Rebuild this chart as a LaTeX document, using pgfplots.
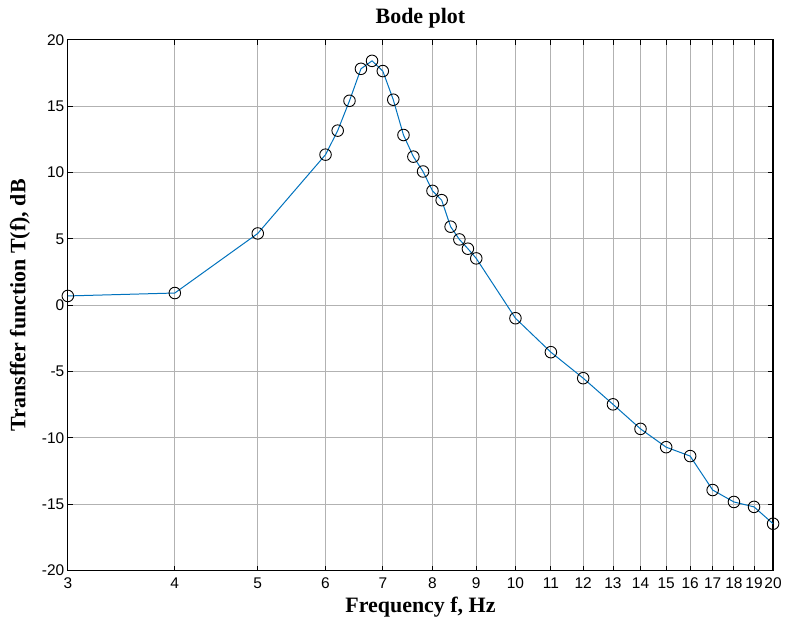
\documentclass[border=0pt]{standalone}
\usepackage{pgfplots}
\pgfplotsset{compat=1.18}
\usepackage{fontspec}
\setmainfont{Liberation Serif}
\newfontfamily\arialfont{Liberation Sans}
\definecolor{mlblue}{rgb}{0,0.447,0.741}

\begin{document}
\begin{tikzpicture}
\begin{axis}[
  scale only axis,
  width=707pt,
  height=532pt,
  xmode=log,
  xmin=3, xmax=20,
  ymin=-20, ymax=20,
  xtick={3,4,5,6,7,8,9,10,11,12,13,14,15,16,17,18,19,20},
  xticklabels={3,4,5,6,7,8,9,10,11,12,13,14,15,16,17,18,19,20},
  ytick={-20,-15,-10,-5,0,5,10,15,20},
  minor xtick={},
  log basis x=10,
  grid=major,
  major grid style={draw=black!30, line width=0.9pt},
  axis line style={black, line width=1.2pt},
  tick align=inside,
  major tick length=5pt,
  tick style={black, line width=0.9pt},
  /pgf/number format/assume math mode=true,
  tick label style={font=\arialfont\fontsize{15.5}{18}\selectfont},
  xticklabel style={yshift=-4pt},
  title={\textbf{Bode plot}},
  title style={font=\fontsize{22}{26}\selectfont, yshift=2pt},
  xlabel={\textbf{Frequency f, Hz}},
  ylabel={\textbf{Transffer function T(f), dB}},
  label style={font=\fontsize{22}{26}\selectfont},
  xlabel style={yshift=-1pt},
  ylabel style={yshift=5pt},
]
\addplot[mlblue, line width=1pt, mark=o, mark size=5.8pt, mark options={black, line width=0.9pt, fill=none}] coordinates {
(3,0.70) (4,0.92) (5,5.41) (6,11.35) (6.2,13.16) (6.4,15.41) (6.6,17.82)
(6.8,18.42) (7.0,17.65) (7.2,15.49) (7.4,12.83) (7.6,11.20) (7.8,10.08)
(8.0,8.62) (8.2,7.92) (8.4,5.92) (8.6,4.96) (8.8,4.26) (9.0,3.53)
(10,-0.98) (11,-3.54) (12,-5.50) (13,-7.47) (14,-9.32) (15,-10.70)
(16,-11.37) (17,-13.93) (18,-14.83) (19,-15.20) (20,-16.47)
};
\end{axis}
\path (current axis.south west) ++(-68pt,-52pt) (current axis.north east) ++(10pt,40pt);
\end{tikzpicture}
\end{document}
